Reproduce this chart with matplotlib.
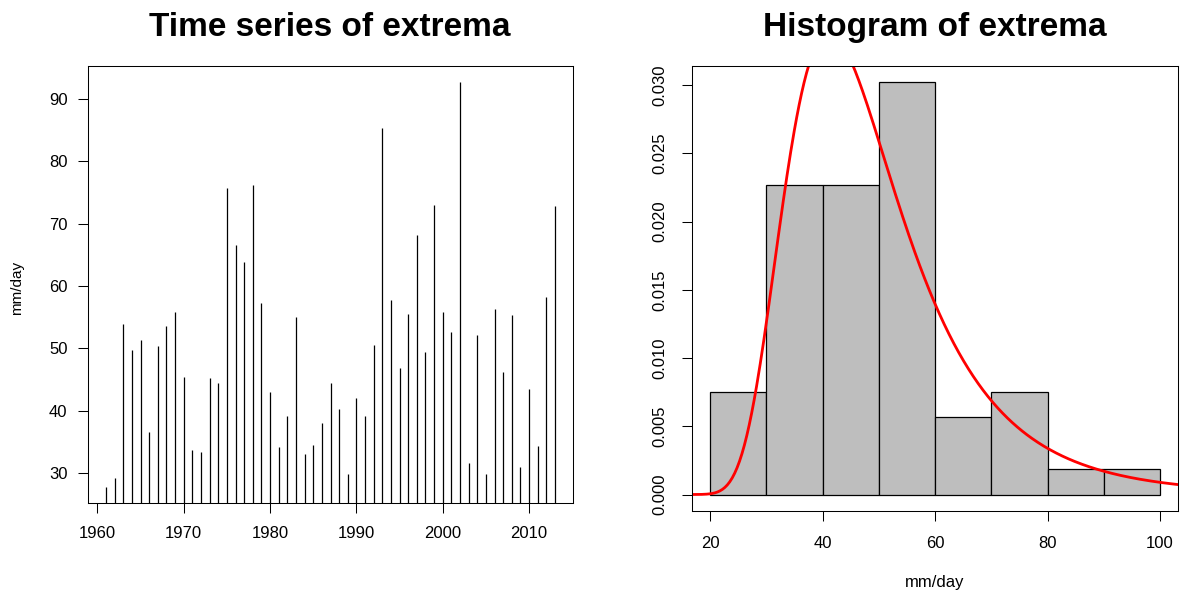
import numpy as np
import matplotlib
matplotlib.use("Agg")
import matplotlib.pyplot as plt

plt.rcParams['font.family'] = ['Liberation Sans', 'DejaVu Sans']

# Annual maximum daily precipitation (mm/day)
years = np.arange(1961, 2014)
extrema = [27.8, 29.25, 53.9, 49.7, 51.4, 36.6, 50.4, 53.6, 55.8, 45.45,
           33.7, 33.4, 45.2, 44.4, 75.8, 66.6, 63.9, 76.2, 57.3, 43.0,
           34.2, 39.1, 55.1, 33.1, 34.5, 38.0, 44.5, 40.3, 29.9, 42.1,
           39.1, 50.5, 85.3, 57.75, 46.8, 55.5, 68.2, 49.5, 73.0, 55.8,
           52.7, 92.7, 31.6, 52.1, 29.9, 56.4, 46.25, 55.3, 30.9, 43.5,
           34.4, 58.2, 72.8]
hist_breaks = np.arange(20, 101, 10)

# fitted GEV parameters (location, scale, shape)
gev_loc = 42.3
gev_scale = 10.95
gev_shape = 0.11

x = np.array(extrema)


def gev_pdf(v, mu, sigma, xi):
    z = 1 + xi * (v - mu) / sigma
    out = np.zeros_like(v, dtype=float)
    ok = z > 0
    t = z[ok] ** (-1 / xi)
    out[ok] = t ** (xi + 1) * np.exp(-t) / sigma
    return out


def r_range(lo, hi):
    # R-style axis range: data range padded by 4% each side
    d = (hi - lo) * 0.04
    return lo - d, hi + d


W, H = 1184, 592
fig = plt.figure(figsize=(W / 100, H / 100), dpi=100)
ax1 = fig.add_axes([88 / W, 1 - 503 / H, (573 - 88) / W, (503 - 66) / H])
ax2 = fig.add_axes([692 / W, 1 - 511 / H, (1178 - 692) / W, (511 - 66) / H])

# left: time series as vertical lines
ax1.vlines(years, 0, extrema, color='black', linewidth=0.9)
ax1.set_xlim(*r_range(years.min(), years.max()))
ax1.set_ylim(*r_range(x.min(), x.max()))
ax1.set_xticks(np.arange(1960, 2011, 10))
ax1.set_yticks(np.arange(30, 91, 10))
ax1.tick_params(axis='x', pad=9.5)
ax1.tick_params(axis='y', pad=7.5)
fig.text(17 / W, 1 - 288 / H, 'mm/day', rotation=90, ha='center', va='center', fontsize=11)
fig.text(330 / W, 1 - 36 / H, 'Time series of extrema', ha='center', va='baseline',
         fontsize=24, fontweight='bold')

# right: density histogram with fitted GEV curve
ax2.hist(x, bins=hist_breaks, density=True, color='#BEBEBE', edgecolor='black', linewidth=0.9)
xlim2 = r_range(hist_breaks[0], hist_breaks[-1])
grid = np.linspace(xlim2[0], xlim2[1], 400)
ax2.plot(grid, gev_pdf(grid, gev_loc, gev_scale, gev_shape), color='red', linewidth=2)
dens, _ = np.histogram(x, bins=hist_breaks, density=True)
ax2.set_xlim(*xlim2)
ax2.set_ylim(*r_range(0, dens.max()))
ax2.set_xticks(np.arange(20, 101, 20))
yt = np.arange(0, 0.0301, 0.005)
ax2.set_yticks(yt)
ax2.set_yticklabels(['%.3f' % v for v in yt], rotation=90, va='center')
ax2.tick_params(axis='both', pad=10.5)
fig.text(935 / W, 1 - 583 / H, 'mm/day', ha='center', va='center', fontsize=12)
fig.text(935 / W, 1 - 36 / H, 'Histogram of extrema', ha='center', va='baseline',
         fontsize=24, fontweight='bold')

for ax in (ax1, ax2):
    ax.tick_params(direction='out', length=7.2, width=0.75, labelsize=12)
    for sp in ax.spines.values():
        sp.set_linewidth(0.75)

fig.savefig('out.png', dpi=100)
